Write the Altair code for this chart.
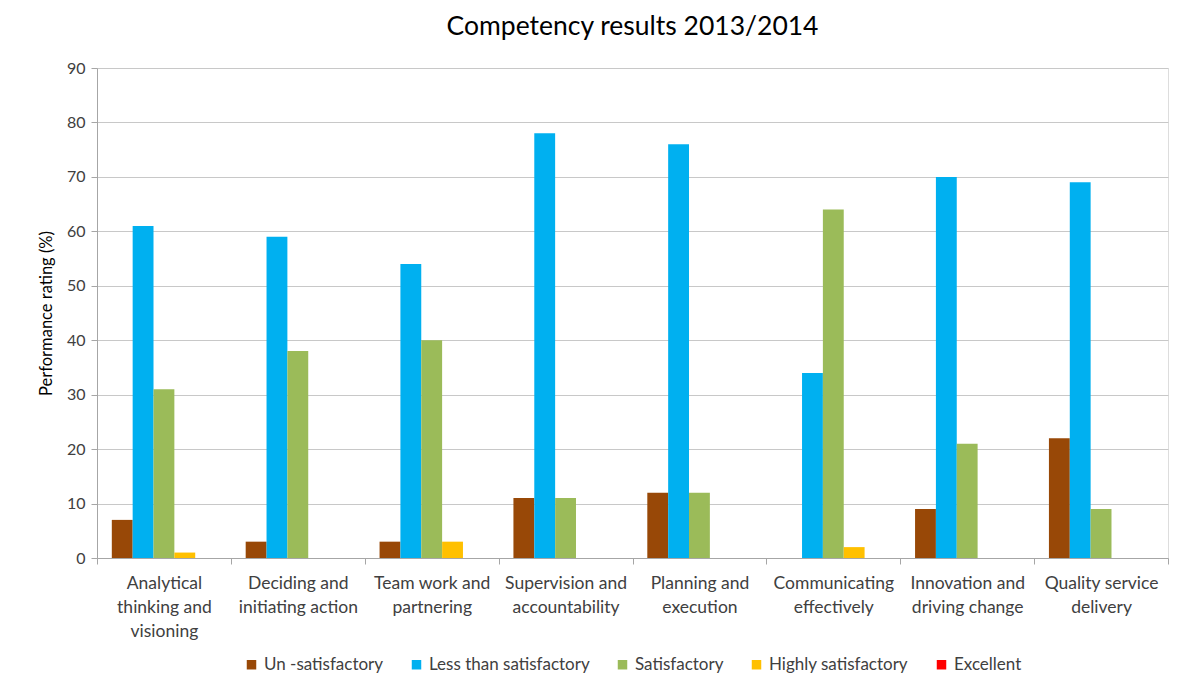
import altair as alt
import pandas as pd

categories = [
    "Analytical|thinking and|visioning",
    "Deciding and|initiating action",
    "Team work and|partnering",
    "Supervision and|accountability",
    "Planning and|execution",
    "Communicating|effectively",
    "Innovation and|driving change",
    "Quality service|delivery",
]
series = ["Un -satisfactory", "Less than satisfactory", "Satisfactory",
          "Highly satisfactory", "Excellent"]
colors = ["#984807", "#00B0F0", "#9BBB59", "#FFC000", "#FF0000"]

unsatisfactory = [7, 3, 3, 11, 12, 0, 9, 22]
less_than = [61, 59, 54, 78, 76, 34, 70, 69]
satisfactory = [31, 38, 40, 11, 12, 64, 21, 9]
highly = [1, 0, 3, 0, 0, 2, 0, 0]
excellent = [0, 0, 0, 0, 0, 0, 0, 0]

values = [unsatisfactory, less_than, satisfactory, highly, excellent]
rows = []
for s, vals in zip(series, values):
    for c, v in zip(categories, vals):
        rows.append({"category": c, "series": s, "value": v})
df = pd.DataFrame(rows)

FONT = "Lato"
GRAY = "#a6a6a6"

chart = alt.Chart(df).mark_bar().encode(
    x=alt.X("category:N", sort=categories, title=None,
            scale=alt.Scale(paddingInner=0, paddingOuter=0),
            axis=alt.Axis(tickBand="extent", labelAngle=0,
                          labelExpr="split(datum.label, '|')",
                          labelFontSize=17.5, labelLineHeight=24,
                          labelColor="#404040", labelFont=FONT,
                          labelPadding=10, tickSize=6, tickColor=GRAY,
                          domainColor=GRAY, labelBaseline="top")),
    xOffset=alt.XOffset("series:N", sort=series,
                        scale=alt.Scale(paddingInner=0, paddingOuter=0.71)),
    y=alt.Y("value:Q", title="Performance rating (%)",
            scale=alt.Scale(domain=[0, 90]),
            axis=alt.Axis(values=list(range(0, 91, 10)), labelFontSize=16,
                          labelColor="#404040", labelFont=FONT,
                          titleFont=FONT, titleFontSize=16.5,
                          titleFontWeight="normal", titleColor="#000000",
                          titlePadding=12, tickSize=6, tickColor=GRAY,
                          domainColor=GRAY, gridColor="#c8c8c8",
                          labelPadding=6)),
    color=alt.Color("series:N", sort=series,
                    scale=alt.Scale(domain=series, range=colors),
                    legend=alt.Legend(title=None, orient="none",
                                      legendX=146, legendY=588,
                                      direction="horizontal", columns=5,
                                      symbolType="square", symbolSize=90,
                                      symbolStrokeWidth=0,
                                      labelFontSize=17, labelFont=FONT,
                                      labelColor="#404040", labelLimit=400,
                                      columnPadding=24, labelOffset=4)),
).properties(
    width=1071,
    height=490,
    title=alt.TitleParams("Competency results 2013/2014", fontSize=26.5,
                          font=FONT, fontWeight="normal", color="#000000",
                          anchor="middle", offset=20),
    autosize=alt.AutoSizeParams(type="none"),
    padding={"left": 89, "top": 60, "right": 1, "bottom": 115},
).configure_view(
    stroke="#8c8c8c", strokeWidth=1
).configure(background="white")

chart.save("out.html", embed_options={"renderer": "svg", "actions": False})
